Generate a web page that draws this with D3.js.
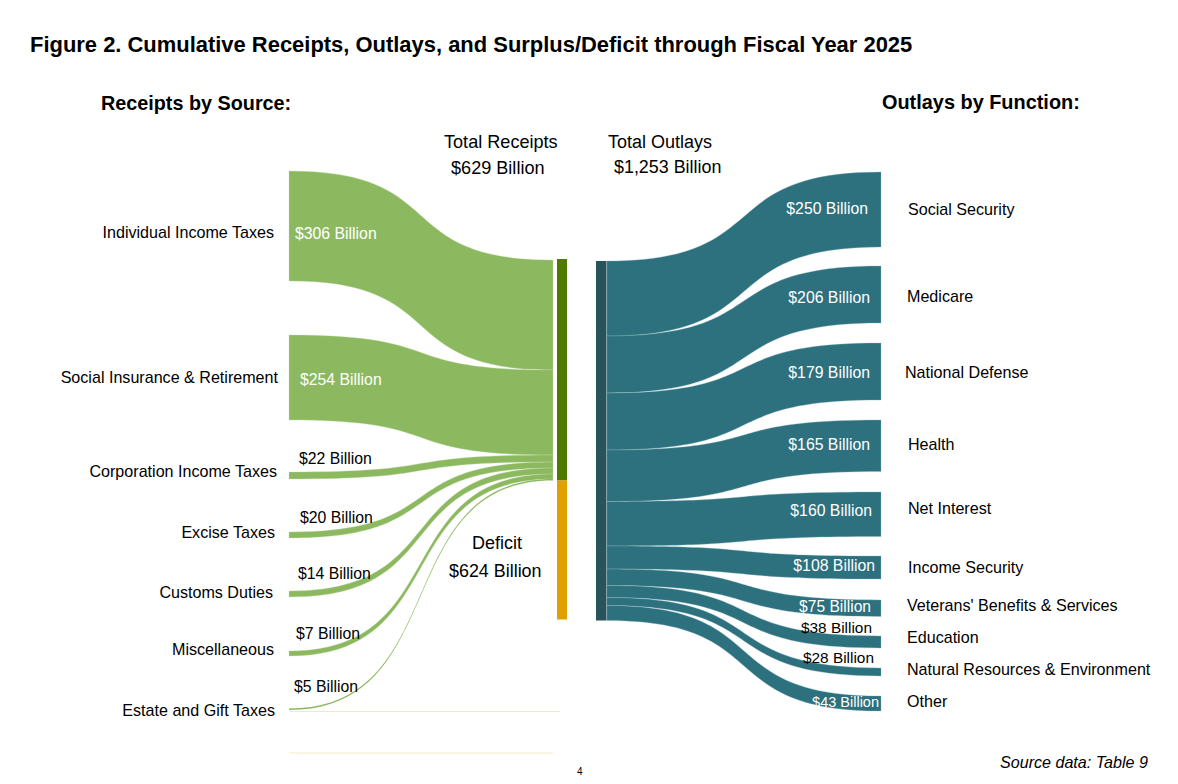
<!DOCTYPE html>
<html>
<head>
<meta charset="utf-8">
<script src="https://cdn.jsdelivr.net/npm/d3@7"></script>
<style>
  html, body { margin: 0; padding: 0; background: #fff; }
  svg { display: block; font-family: "Liberation Sans", Arial, sans-serif; }
</style>
</head>
<body>
<svg id="chart"></svg>
<script>
// Billions of dollars
const receiptNames = ["Individual Income Taxes", "Social Insurance & Retirement", "Corporation Income Taxes", "Excise Taxes", "Customs Duties", "Miscellaneous", "Estate and Gift Taxes"];
const receiptValues = [306, 254, 22, 20, 14, 7, 5];
const outlayNames = ["Social Security", "Medicare", "National Defense", "Health", "Net Interest", "Income Security", "Veterans' Benefits & Services", "Education", "Natural Resources & Environment", "Other"];
const outlayValues = [250, 206, 179, 165, 160, 108, 75, 38, 28, 43];
const totalReceipts = 629;
const totalOutlays = 1253;
const deficit = 624;

const width = 1178, height = 784;
const svg = d3.select("#chart").attr("width", width).attr("height", height);

const money = v => "$" + d3.format(",")(v) + " Billion";

// The original's band widths are not quite proportional, so these are polylinear
const receiptWidth = d3.scaleLinear()
  .domain([5, 7, 14, 20, 22, 254, 306])
  .range([1.5, 5, 6, 6, 7, 85, 110]);
const outlayWidth = d3.scaleLinear()
  .domain([28, 38, 43, 75, 108, 160, 165, 179, 206, 250])
  .range([8, 12, 15, 16.5, 23, 44.5, 51.5, 57, 57, 75]);
const deficitHeight = d3.scaleLinear().domain([0, deficit]).range([0, 139]);

// top of each band at the outer end
const receiptTop = d3.scaleOrdinal(receiptNames, [171, 335, 472, 532, 591, 651, 708.5]);
const outlayTop = d3.scaleOrdinal(outlayNames, [172, 266, 343, 420, 492, 556, 600, 636, 668, 696]);

// Band between two vertical ends. Control points sit past the midpoint,
// the original's curves are steeper in the middle than a plain bump
const tension = 0.62;
function ribbon(a, b) {
  const dx = (b.x - a.x) * tension;
  const p = d3.path();
  p.moveTo(a.x, a.y0);
  p.bezierCurveTo(a.x + dx, a.y0, b.x - dx, b.y0, b.x, b.y0);
  p.lineTo(b.x, b.y1);
  p.bezierCurveTo(b.x - dx, b.y1, a.x + dx, a.y1, a.x, a.y1);
  p.closePath();
  return p.toString();
}

function stack(names, values, scale, start) {
  let y = start;
  return names.map((name, i) => {
    const w = scale(values[i]);
    const row = { name, value: values[i], w, y0: y, y1: y + w };
    y += w;
    return row;
  });
}

const receiptRows = stack(receiptNames, receiptValues, receiptWidth, 260);
const outlayRows = stack(outlayNames, outlayValues, outlayWidth, 261);

const greenEnd = d3.sum(receiptRows, d => d.w) + 260;
const tealEnd = d3.sum(outlayRows, d => d.w) + 261;

// faint leftovers of the deficit flow
svg.append("g").selectAll("line")
  .data([[289, 560, 711.5], [289, 553, 753]])
  .join("line")
  .attr("x1", d => d[0]).attr("x2", d => d[1])
  .attr("y1", d => d[2]).attr("y2", d => d[2])
  .attr("stroke", "#f5e9c4").attr("stroke-width", 1);

// Receipt bands
svg.append("g").selectAll("path")
  .data(receiptRows)
  .join("path")
  .attr("fill", "#8cb95f")
  .attr("stroke", "#c6dcae")
  .attr("stroke-width", d => d.w < 3 ? 0 : 0.35)
  .attr("d", d => ribbon(
    { x: 289, y0: receiptTop(d.name), y1: receiptTop(d.name) + d.w },
    { x: 553, y0: d.y0, y1: d.y1 }
  ));

// Outlay bands
svg.append("g").selectAll("path")
  .data(outlayRows)
  .join("path")
  .attr("fill", "#2d707e")
  .attr("stroke", "#8fb9c1")
  .attr("stroke-width", 0.35)
  .attr("d", d => ribbon(
    { x: 606.8, y0: d.y0, y1: d.y1 },
    { x: 881, y0: outlayTop(d.name), y1: outlayTop(d.name) + d.w }
  ));

// Nodes
svg.append("rect").attr("x", 557).attr("y", 259).attr("width", 10).attr("height", greenEnd - 259).attr("fill", "#4f7a00");
svg.append("rect").attr("x", 557).attr("y", greenEnd).attr("width", 10).attr("height", deficitHeight(deficit)).attr("fill", "#e0a100");
svg.append("rect").attr("x", 596).attr("y", 261).attr("width", 10.4).attr("height", tealEnd - 261).attr("fill", "#27545a");

// Text, placed by hand as in the original
const receiptLabelSpots = [[274, 238], [278, 383], [277, 477], [275, 538], [273, 598], [274, 655], [275, 716]];
const receiptValueSpots = [[295, 239, "#fff"], [300, 385, "#fff"], [299, 464, "#000"], [300, 523, "#000"], [298, 579, "#000"], [296, 639, "#000"], [294, 692, "#000"]];
const outlayLabelSpots = [[908, 215], [907, 302], [905, 378], [908, 450], [908, 514], [908, 573], [907, 611], [907, 643], [907, 675], [907, 707]];
const outlayValueSpots = [[868, 214, "#fff", 15.8], [870, 303, "#fff", 15.8], [870, 378, "#fff", 15.8], [870, 450, "#fff", 15.8], [872, 516, "#fff", 15.8], [875, 571, "#fff", 15.8], [871, 612, "#fff", 15.6], [872, 633, "#000", 15.4], [874, 663, "#000", 15.4], [879, 707, "#fff", 14.5]];

svg.append("g").attr("font-size", 16.1).attr("text-anchor", "end")
  .selectAll("text").data(receiptNames).join("text")
  .attr("x", (d, i) => receiptLabelSpots[i][0])
  .attr("y", (d, i) => receiptLabelSpots[i][1])
  .text(d => d);

svg.append("g").attr("font-size", 15.8)
  .selectAll("text").data(receiptValues).join("text")
  .attr("x", (d, i) => receiptValueSpots[i][0])
  .attr("y", (d, i) => receiptValueSpots[i][1])
  .attr("fill", (d, i) => receiptValueSpots[i][2])
  .text(money);

svg.append("g").attr("font-size", 16.1)
  .selectAll("text").data(outlayNames).join("text")
  .attr("x", (d, i) => outlayLabelSpots[i][0])
  .attr("y", (d, i) => outlayLabelSpots[i][1])
  .text(d => d);

svg.append("g").attr("text-anchor", "end")
  .selectAll("text").data(outlayValues).join("text")
  .attr("x", (d, i) => outlayValueSpots[i][0])
  .attr("y", (d, i) => outlayValueSpots[i][1])
  .attr("fill", (d, i) => outlayValueSpots[i][2])
  .attr("font-size", (d, i) => outlayValueSpots[i][3])
  .text(money);

const notes = [
  { t: "Figure 2. Cumulative Receipts, Outlays, and Surplus/Deficit through Fiscal Year 2025", x: 30, y: 52, size: 21.95, weight: "bold" },
  { t: "Receipts by Source:", x: 101, y: 110, size: 19.8, weight: "bold" },
  { t: "Outlays by Function:", x: 882, y: 109, size: 19.9, weight: "bold" },
  { t: "Total Receipts", x: 444, y: 148, size: 18.1 },
  { t: money(totalReceipts), x: 451, y: 174, size: 18.1 },
  { t: "Total Outlays", x: 608, y: 148, size: 18 },
  { t: money(totalOutlays), x: 614, y: 173, size: 17.9 },
  { t: "Deficit", x: 472, y: 549, size: 18 },
  { t: money(deficit), x: 449, y: 577, size: 17.9 },
  { t: "Source data: Table 9", x: 1000, y: 768, size: 16.1, style: "italic" },
  { t: "4", x: 577, y: 775, size: 10 }
];
svg.append("g").selectAll("text").data(notes).join("text")
  .attr("x", d => d.x).attr("y", d => d.y)
  .attr("font-size", d => d.size)
  .attr("font-weight", d => d.weight || "normal")
  .attr("font-style", d => d.style || "normal")
  .text(d => d.t);
</script>
</body>
</html>
